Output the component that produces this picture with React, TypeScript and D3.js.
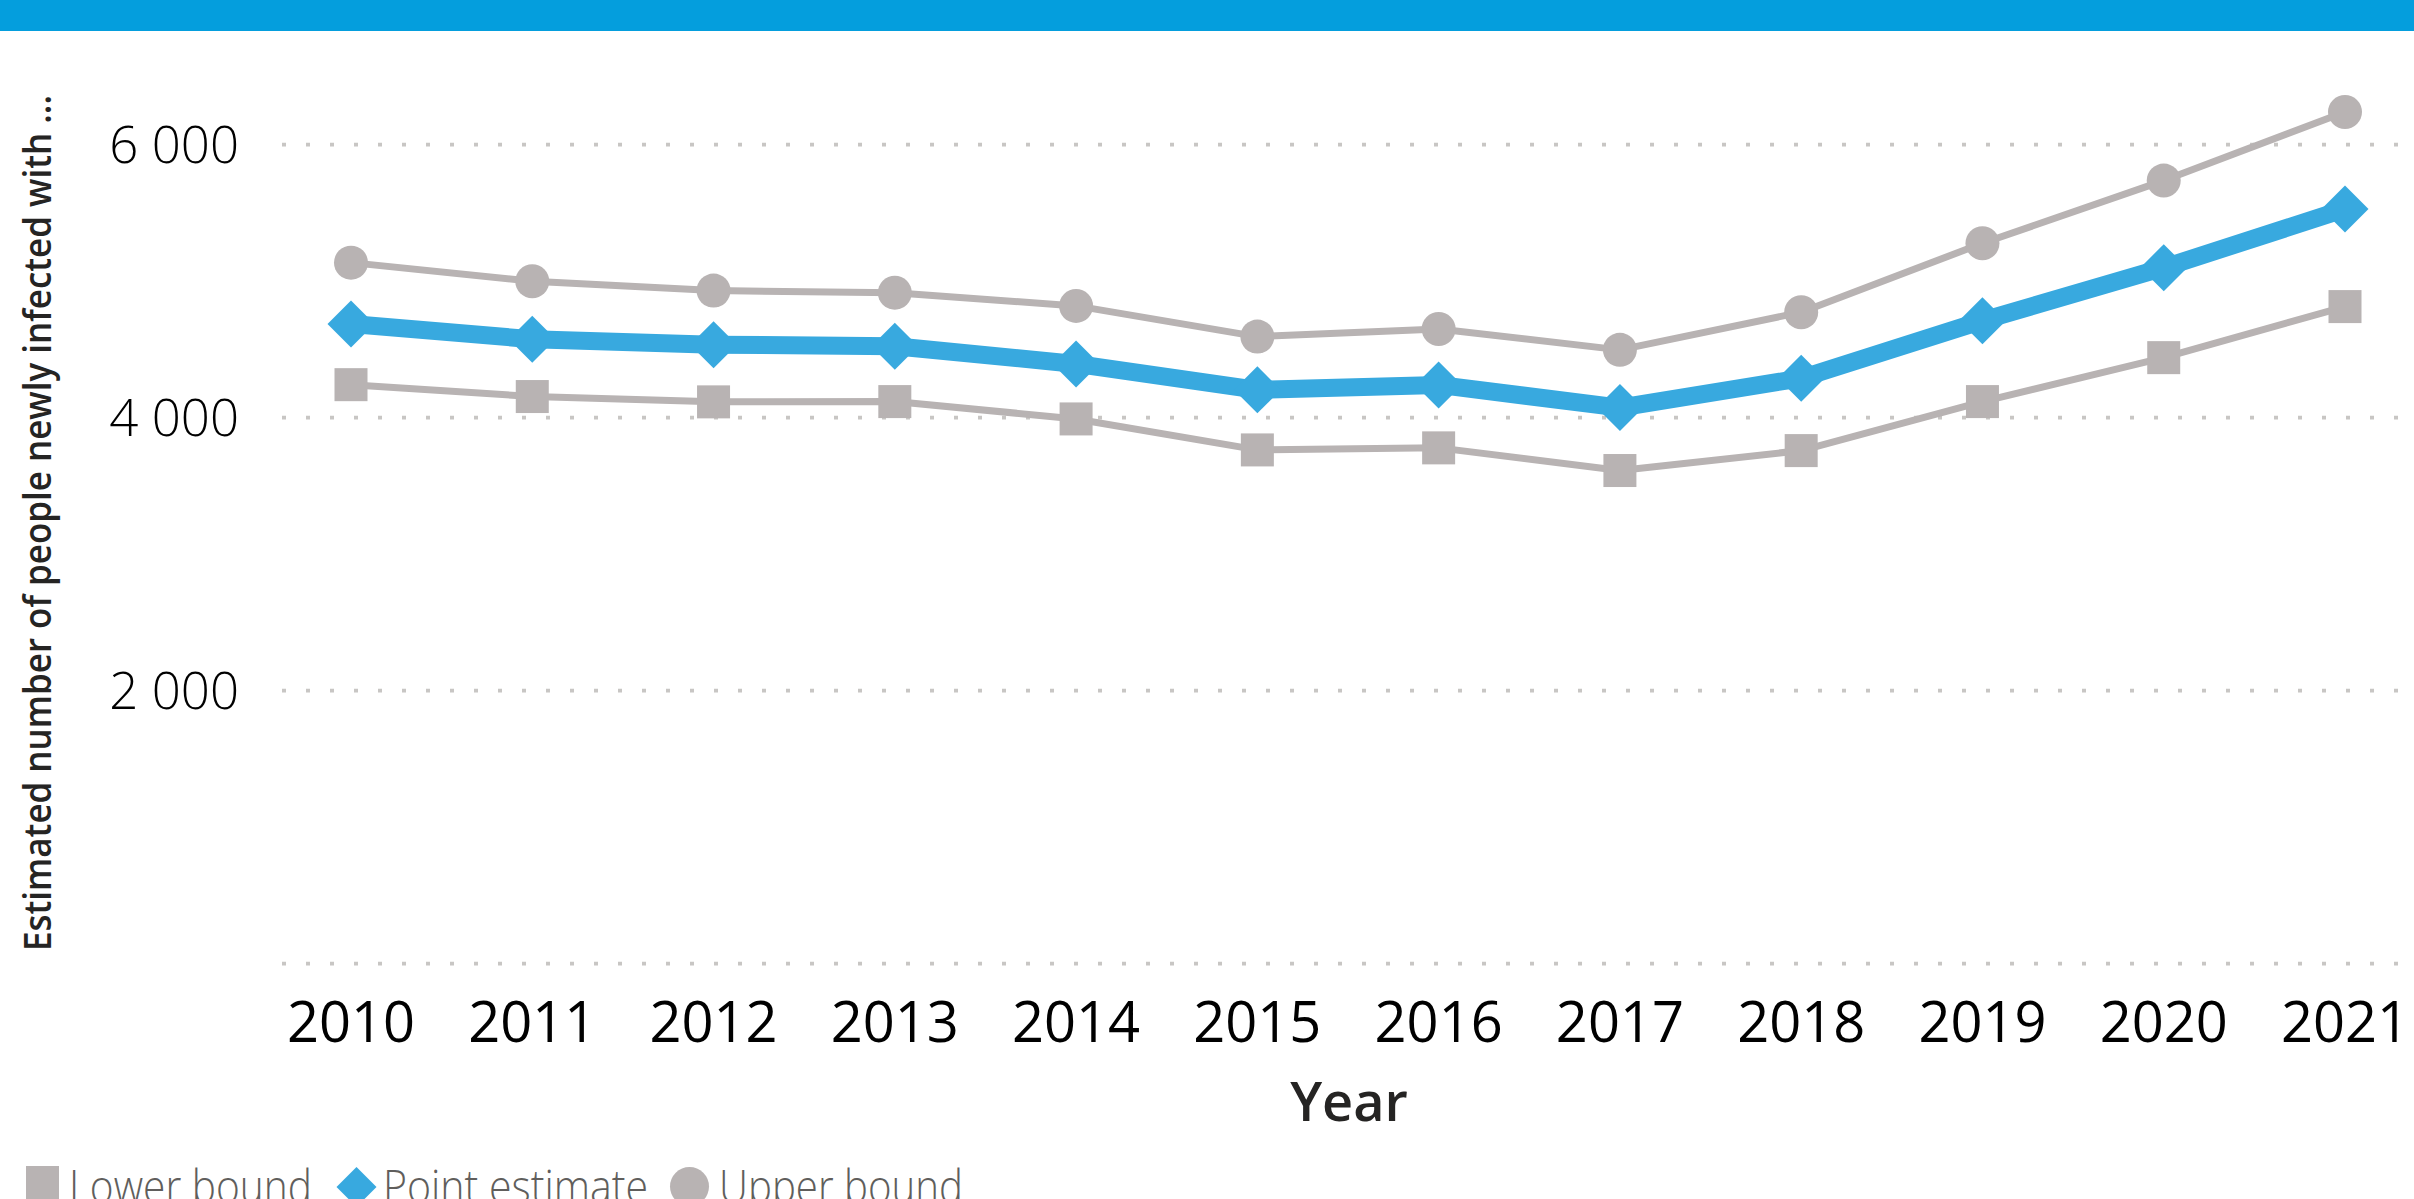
import React from "react";
import * as d3 from "d3";

const years = [2010, 2011, 2012, 2013, 2014, 2015, 2016, 2017, 2018, 2019, 2020, 2021];
const upperBound = [5136, 5000, 4931, 4916, 4819, 4594, 4650, 4497, 4773, 5278, 5737, 6240];
const pointEstimate = [4687, 4575, 4535, 4524, 4394, 4204, 4240, 4074, 4289, 4711, 5099, 5529];
const lowerBound = [4242, 4155, 4116, 4118, 3991, 3764, 3779, 3613, 3759, 4118, 4440, 4814];
const yTickValues = [0, 2000, 4000, 6000];
const legendLabels = ["Lower bound", "Point estimate", "Upper bound"];
const yTitle = "Estimated number of people newly infected with ...";
const xTitle = "Year";

const W = 2414;
const H = 1199;
const GRAY = "#B8B3B3";
const BLUE = "#38A9DF";
const FONT = "'Segoe UI', 'Open Sans', sans-serif";

export default function App() {
  const x = d3.scalePoint<number>().domain(years).range([351, 2345]);
  const y = d3.scaleLinear().domain([0, 6000]).range([963.7, 144.7]);
  const line = d3
    .line<number>()
    .x((_, i) => x(years[i]) as number)
    .y((v) => y(v));
  const fmt = (v: number) => d3.format(",")(v).replace(/,/g, " ");

  const squareSide = 33;
  const diamondR = 23.5;
  const circleR = 17;
  const diamondPath = (cx: number, cy: number, r: number) =>
    `M${cx},${cy - r}L${cx + r},${cy}L${cx},${cy + r}L${cx - r},${cy}Z`;

  const legendText = { fontFamily: FONT, fontWeight: 300, fontSize: 46, fill: "#605E5C" };

  return (
    <svg
      width={W}
      height={H}
      viewBox={`0 0 ${W} ${H}`}
      style={{ position: "absolute", left: 0, top: 0, display: "block", background: "#fff" }}
    >
      <rect x={0} y={0} width={W} height={31} fill="#049EDD" />

      {/* gridlines */}
      {yTickValues.map((t) => (
        <line
          key={"g" + t}
          x1={282}
          x2={2400}
          y1={y(t)}
          y2={y(t)}
          stroke="#C8C6C4"
          strokeWidth={3.8}
          strokeDasharray="4 20"
        />
      ))}
      {/* y tick labels */}
      {yTickValues
        .filter((t) => t !== 0)
        .map((t) => (
          <text
            key={"t" + t}
            x={239}
            y={y(t) + 18}
            textAnchor="end"
            fontFamily={FONT}
            fontWeight={300}
            fontSize={51}
            fill="#000"
          >
            {fmt(t)}
          </text>
        ))}
      {/* x tick labels */}
      {years.map((yr) => (
        <text
          key={"x" + yr}
          x={x(yr)}
          y={1042}
          textAnchor="middle"
          fontFamily={FONT}
          fontSize={56}
          fill="#000"
        >
          {yr}
        </text>
      ))}
      <text
        x={1349}
        y={1121}
        textAnchor="middle"
        fontFamily={FONT}
        fontWeight={600}
        fontSize={54}
        fill="#252423"
      >
        {xTitle}
      </text>
      <text
        transform={`translate(51,523) rotate(-90)`}
        textAnchor="middle"
        fontFamily={FONT}
        fontWeight={600}
        fontSize={38}
        textLength={856}
        lengthAdjust="spacingAndGlyphs"
        fill="#252423"
      >
        {yTitle}
      </text>

      {/* lower bound */}
      <path d={line(lowerBound) || ""} fill="none" stroke={GRAY} strokeWidth={7} strokeLinejoin="round" />
      {lowerBound.map((v, i) => (
        <rect
          key={"l" + i}
          x={(x(years[i]) as number) - squareSide / 2}
          y={y(v) - squareSide / 2}
          width={squareSide}
          height={squareSide}
          fill={GRAY}
        />
      ))}
      {/* upper bound */}
      <path d={line(upperBound) || ""} fill="none" stroke={GRAY} strokeWidth={7} strokeLinejoin="round" />
      {upperBound.map((v, i) => (
        <circle key={"u" + i} cx={x(years[i]) as number} cy={y(v)} r={circleR} fill={GRAY} />
      ))}
      {/* point estimate */}
      <path d={line(pointEstimate) || ""} fill="none" stroke={BLUE} strokeWidth={18} strokeLinejoin="round" />
      {pointEstimate.map((v, i) => (
        <path key={"p" + i} d={diamondPath(x(years[i]) as number, y(v), diamondR)} fill={BLUE} />
      ))}

      {/* legend */}
      <rect x={26} y={1166} width={33} height={40} fill={GRAY} />
      <text x={69} y={1203} textLength={243} lengthAdjust="spacingAndGlyphs" {...legendText}>
        {legendLabels[0]}
      </text>
      <path d={diamondPath(356.5, 1187, 20)} fill={BLUE} />
      <text x={383} y={1203} textLength={265} lengthAdjust="spacingAndGlyphs" {...legendText}>
        {legendLabels[1]}
      </text>
      <circle cx={689.5} cy={1186.5} r={19.5} fill={GRAY} />
      <text x={719} y={1203} textLength={244} lengthAdjust="spacingAndGlyphs" {...legendText}>
        {legendLabels[2]}
      </text>
    </svg>
  );
}
